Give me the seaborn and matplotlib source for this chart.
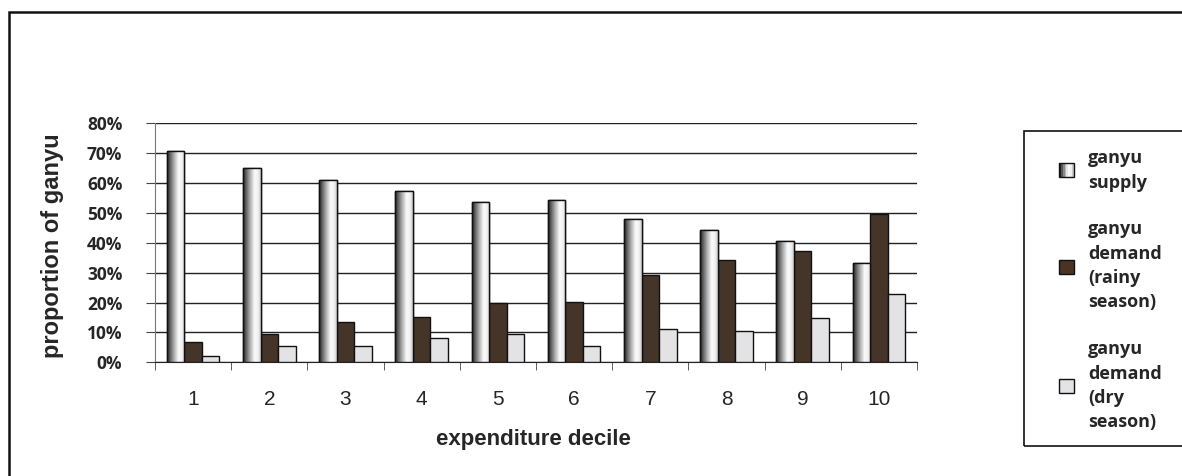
import numpy as np
import pandas as pd
import seaborn as sns
import matplotlib.pyplot as plt
from matplotlib.colors import LinearSegmentedColormap
from matplotlib.patches import Rectangle, Patch
from matplotlib.legend_handler import HandlerBase
from matplotlib.ticker import PercentFormatter, FixedLocator

deciles = ['1', '2', '3', '4', '5', '6', '7', '8', '9', '10']
supply = [0.707, 0.652, 0.609, 0.574, 0.537, 0.542, 0.478, 0.442, 0.407, 0.331]
demand_rainy = [0.067, 0.095, 0.134, 0.152, 0.197, 0.202, 0.292, 0.341, 0.371, 0.497]
demand_dry = [0.022, 0.054, 0.054, 0.080, 0.095, 0.054, 0.112, 0.104, 0.147, 0.228]
series = ['ganyu\nsupply', 'ganyu\ndemand\n(rainy\nseason)', 'ganyu\ndemand\n(dry\nseason)']

df = pd.DataFrame({
    'decile': deciles * 3,
    'value': supply + demand_rainy + demand_dry,
    'serie': [series[0]] * 10 + [series[1]] * 10 + [series[2]] * 10,
})

cores = ['#9a9a9a', '#4a3323', '#e3e3e6']
grad = LinearSegmentedColormap.from_list('cil', [(0, '#1e1e1e'), (0.15, '#5a5a5a'), (0.4, '#b0b0b0'),
                                                 (0.65, '#fbfbfb'), (0.85, '#f0f0f0'), (1, '#c8c8c8')])

sns.set_style('white')
plt.rcParams['font.family'] = ['Liberation Sans', 'DejaVu Sans']

fig = plt.figure(figsize=(11.82, 4.76), dpi=100)
ax = fig.add_axes([155 / 1182, 1 - 362.3 / 476, (917 - 155) / 1182, (362.3 - 123.3) / 476])

sns.barplot(data=df, x='decile', y='value', hue='serie', palette=cores, width=0.69, gap=0,
            edgecolor='#111111', linewidth=1, legend=False, ax=ax, zorder=3)

# gradiente nas barras de oferta
g = np.linspace(0, 1, 64).reshape(1, -1)
for p in ax.patches[:10]:
    x0, y0 = p.get_x(), p.get_y()
    w, h = p.get_width(), p.get_height()
    im = ax.imshow(g, extent=[x0, x0 + w, y0, y0 + h], aspect='auto', cmap=grad, zorder=3.5)
    im.set_clip_path(p)
    borda = Rectangle((x0, y0), w, h, fill=False, edgecolor='#111111', lw=1, zorder=4)
    ax.add_patch(borda)

ax.set_xlim(-0.5, 9.5)
ax.set_ylim(0, 0.8)
ax.set_yticks(np.arange(0, 0.81, 0.1))
ax.yaxis.set_major_formatter(PercentFormatter(1.0, decimals=0))
ax.yaxis.grid(True, color='#222222', lw=1)
ax.set_axisbelow(True)
for s in ['top', 'right']:
    ax.spines[s].set_visible(False)
ax.spines['left'].set_color('#777777')
ax.spines['bottom'].set_color('#222222')
ax.tick_params(axis='y', left=True, length=6.5, color='#444444', pad=17)
for t in ax.get_yticklabels():
    t.set_fontfamily(['Open Sans', 'DejaVu Sans'])
    t.set_fontweight('bold')
    t.set_fontsize(12.5)
ax.xaxis.set_minor_locator(FixedLocator(np.arange(-0.5, 10, 1)))
ax.tick_params(axis='x', which='major', length=0, labelsize=15, pad=20)
ax.tick_params(axis='x', which='minor', bottom=True, length=6, color='#444444')

ax.set_xlabel('expenditure decile', fontsize=16, fontweight='bold')
ax.xaxis.set_label_coords(0.497, -0.325)
ax.xaxis.label.set_va('center')
ax.set_ylabel('proportion of ganyu', fontsize=17, fontweight='bold')
ax.yaxis.set_label_coords(-0.135, 0.49)
ax.yaxis.label.set_va('center')


class HandlerGrad(HandlerBase):
    def create_artists(self, legend, orig, xd, yd, w, h, fs, trans):
        n = 8
        arts = []
        for i in range(n):
            r = Rectangle((xd + i * w / n, yd), w / n, h, facecolor=grad(i / (n - 1)),
                          edgecolor='none', transform=trans)
            arts.append(r)
        arts.append(Rectangle((xd, yd), w, h, fill=False, edgecolor='#111111', lw=1, transform=trans))
        return arts


handles = [Patch(facecolor=c, edgecolor='#111111') for c in cores]
leg = fig.legend(handles, series, loc='upper left', bbox_to_anchor=(1043 / 1182, 1 - 133 / 476),
                 frameon=False, handlelength=0.8, handleheight=0.8, handletextpad=0.8,
                 labelspacing=1.6, prop={'family': ['Open Sans', 'DejaVu Sans'], 'weight': 'bold', 'size': 13},
                 handler_map={handles[0]: HandlerGrad()})
for t in leg.get_texts():
    t.set_linespacing(1.45)

fig.add_artist(Rectangle((1024 / 1182, 1 - 446 / 476), 0.2, (446 - 131) / 476, fill=False,
                         edgecolor='#111111', lw=1.2, transform=fig.transFigure))
fig.add_artist(Rectangle((8.5 / 1182, -0.1), 1.1, 1.1 - 12 / 476, fill=False,
                         edgecolor='#111111', lw=1.8, transform=fig.transFigure))

fig.savefig('out.png', dpi=100)
